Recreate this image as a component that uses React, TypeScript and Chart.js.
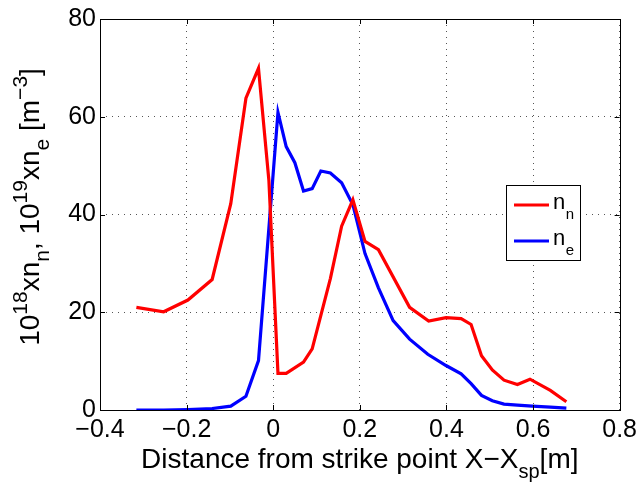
import React, { useEffect, useRef } from "react";
import { Chart, registerables } from "chart.js";

Chart.register(...registerables);

const nnX = [-0.316, -0.253, -0.197, -0.141, -0.098, -0.063, -0.034, -0.010, 0.011, 0.030, 0.070, 0.090, 0.132, 0.158, 0.184, 0.212, 0.243, 0.315, 0.359, 0.399, 0.434, 0.457, 0.481, 0.506, 0.533, 0.564, 0.593, 0.640, 0.677];
const nnY = [21.0, 20.1, 22.5, 26.7, 42.2, 63.8, 69.9, 47.0, 7.5, 7.5, 9.8, 12.5, 26.9, 37.6, 43.0, 34.5, 32.8, 21.0, 18.2, 18.9, 18.7, 17.5, 11.1, 8.2, 6.1, 5.2, 6.3, 4.0, 1.7];

const neX = [-0.316, -0.253, -0.197, -0.141, -0.098, -0.063, -0.034, 0.011, 0.030, 0.050, 0.070, 0.090, 0.110, 0.132, 0.158, 0.184, 0.212, 0.243, 0.277, 0.315, 0.357, 0.399, 0.434, 0.457, 0.481, 0.506, 0.533, 0.564, 0.598, 0.640, 0.677];
const neY = [0.0, 0.0, 0.1, 0.3, 0.8, 2.8, 10.1, 60.9, 53.9, 50.6, 44.8, 45.3, 48.9, 48.5, 46.5, 42.0, 32.0, 25.0, 18.3, 14.5, 11.4, 9.1, 7.4, 5.4, 3.0, 1.9, 1.2, 1.0, 0.8, 0.6, 0.4];

const xTicks = [-0.4, -0.2, 0, 0.2, 0.4, 0.6, 0.8];
const yTicks = [0, 20, 40, 60, 80];

const seriesNames = ["n", "n"];
const seriesSubs = ["n", "e"];
const seriesColors = ["#ff0000", "#0000ff"];

const FONT = '"Liberation Sans", Arial, Helvetica, sans-serif';

type Seg = { t: string; m?: "sup" | "sub" };

function drawSegs(ctx: CanvasRenderingContext2D, segs: Seg[], x: number, y: number, size: number, align: "left" | "center", smallRatio = 0.72) {
  const small = Math.round(size * smallRatio);
  const widths = segs.map((s) => {
    ctx.font = `${s.m ? small : size}px ${FONT}`;
    return ctx.measureText(s.t).width;
  });
  const total = widths.reduce((a, b) => a + b, 0);
  let cx = align === "center" ? x - total / 2 : x;
  ctx.textAlign = "left";
  ctx.textBaseline = "alphabetic";
  segs.forEach((s, i) => {
    ctx.font = `${s.m ? small : size}px ${FONT}`;
    let dy = 0;
    if (s.m === "sup") dy = -size * 0.42;
    if (s.m === "sub") dy = size * 0.36;
    ctx.fillText(s.t, cx, y + dy);
    cx += widths[i];
  });
}

const framePlugin = {
  id: "matlabFrame",
  afterDraw(chart: any) {
    const ctx: CanvasRenderingContext2D = chart.ctx;
    const { left, right, top, bottom } = chart.chartArea;
    const xs = chart.scales.x;
    const ys = chart.scales.y;
    ctx.save();
    ctx.strokeStyle = "#000";
    ctx.lineWidth = 1;
    ctx.beginPath();
    xTicks.forEach((v) => {
      const px = Math.round(xs.getPixelForValue(v)) + 0.5;
      ctx.moveTo(px, bottom);
      ctx.lineTo(px, bottom - 5);
      ctx.moveTo(px, top);
      ctx.lineTo(px, top + 5);
    });
    yTicks.forEach((v) => {
      const py = Math.round(ys.getPixelForValue(v)) + 0.5;
      ctx.moveTo(left, py);
      ctx.lineTo(left + 5, py);
      ctx.moveTo(right, py);
      ctx.lineTo(right - 5, py);
    });
    ctx.stroke();
    ctx.strokeRect(Math.round(left) + 0.5, Math.round(top) + 0.5, Math.round(right - left), Math.round(bottom - top));

    // Legend
    const lx = 506.5, ly = 185.5, lw = 74, lh = 75;
    ctx.fillStyle = "#fff";
    ctx.fillRect(lx, ly, lw, lh);
    ctx.strokeRect(lx, ly, lw, lh);
    const rowsY = [205, 241];
    rowsY.forEach((ry, i) => {
      ctx.strokeStyle = seriesColors[i];
      ctx.lineWidth = 3;
      ctx.beginPath();
      ctx.moveTo(514, ry);
      ctx.lineTo(549, ry);
      ctx.stroke();
      ctx.fillStyle = "#000";
      ctx.font = `22px ${FONT}`;
      ctx.textAlign = "left";
      ctx.textBaseline = "alphabetic";
      ctx.fillText(seriesNames[i], 553, ry + 3.5);
      const w = ctx.measureText(seriesNames[i]).width;
      ctx.font = `15px ${FONT}`;
      ctx.fillText(seriesSubs[i], 553 + w + 0.5, ry + 14);
    });

    // Axis titles
    ctx.fillStyle = "#000";
    drawSegs(ctx, [{ t: "Distance from strike point X\u2212X" }, { t: "sp", m: "sub" }, { t: "[m]" }], (left + right) / 2, 468, 28, "left" === "left" ? "center" : "center");

    ctx.save();
    ctx.translate(39, 207);
    ctx.rotate(-Math.PI / 2);
    drawSegs(
      ctx,
      [
        { t: "10" }, { t: "18", m: "sup" }, { t: "xn" }, { t: "n", m: "sub" }, { t: ", 10" }, { t: "19", m: "sup" },
        { t: "xn" }, { t: "e", m: "sub" }, { t: " [m" }, { t: "\u22123", m: "sup" }, { t: "]" },
      ],
      0, 0, 28, "center", 0.76
    );
    ctx.restore();
    ctx.restore();
  },
};

export default function App() {
  const ref = useRef<HTMLCanvasElement | null>(null);
  useEffect(() => {
    if (!ref.current) return;
    const chart = new Chart(ref.current, {
      type: "scatter",
      data: {
        datasets: [
          {
            label: "nn",
            data: nnX.map((x, i) => ({ x, y: nnY[i] })),
            borderColor: seriesColors[0],
            backgroundColor: seriesColors[0],
            borderWidth: 3.2,
            showLine: true,
            pointRadius: 0,
            tension: 0,
          },
          {
            label: "ne",
            data: neX.map((x, i) => ({ x, y: neY[i] })),
            borderColor: seriesColors[1],
            backgroundColor: seriesColors[1],
            borderWidth: 3.2,
            showLine: true,
            pointRadius: 0,
            tension: 0,
          },
        ],
      },
      options: {
        animation: false,
        responsive: false,
        layout: { padding: { top: 14, right: 19, left: 0, bottom: 0 } },
        plugins: { legend: { display: false }, tooltip: { enabled: false }, title: { display: false } },
        scales: {
          x: {
            type: "linear",
            min: -0.4,
            max: 0.8,
            afterFit: (s: any) => { s.height = 75; },
            afterBuildTicks: (s: any) => { s.ticks = xTicks.map((v) => ({ value: v })); },
            ticks: {
              color: "#000",
              font: { family: FONT, size: 25 },
              padding: 5,
              maxRotation: 0,
              autoSkip: false,
              callback: (v: any) => (Number(v) < 0 ? "\u2212" : "") + String(Math.abs(Math.round(Number(v) * 10) / 10)),
            },
            grid: { color: "#555", lineWidth: 1, drawTicks: false },
            border: { display: false, dash: [1, 5] },
          },
          y: {
            type: "linear",
            min: 0,
            max: 80,
            afterFit: (s: any) => { s.width = 100; },
            afterBuildTicks: (s: any) => { s.ticks = yTicks.map((v) => ({ value: v })); },
            ticks: {
              color: "#000",
              font: { family: FONT, size: 25 },
              padding: 4,
              autoSkip: false,
              callback: (v: any) => String(v),
            },
            grid: { color: "#555", lineWidth: 1, drawTicks: false },
            border: { display: false, dash: [1, 5] },
          },
        },
      },
      plugins: [framePlugin],
    });
    return () => chart.destroy();
  }, []);
  return (
    <div style={{ position: "absolute", left: 0, top: 0, width: 642, height: 485, background: "#fff" }}>
      <canvas ref={ref} width={642} height={485} style={{ width: 642, height: 485, display: "block" }} />
    </div>
  );
}
